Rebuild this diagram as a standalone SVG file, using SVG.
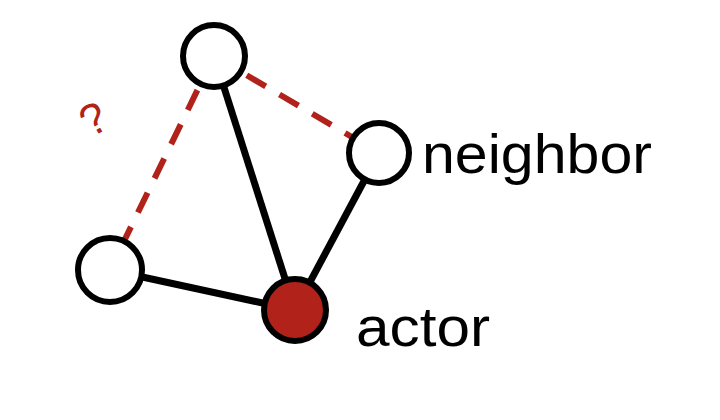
<svg xmlns="http://www.w3.org/2000/svg" width="720" height="420" viewBox="0 0 720 420">
<style>
.n{fill:#fff;stroke:#000;stroke-width:6}
.e{stroke:#000;stroke-width:7}
.d{stroke:#b0221a;stroke-width:6;stroke-dasharray:22,16}
.t{font-family:"Helvetica","Liberation Sans",Arial,sans-serif;font-size:55px;fill:#000}
</style>
<rect width="720" height="420" fill="#fff"/>
<g id="connectors">
<line class="d" x1="214" y1="56" x2="379" y2="153"/>
<line class="d" x1="214" y1="56" x2="110" y2="270"/>
<line class="e" x1="214" y1="56" x2="295" y2="310"/>
<line class="e" x1="379" y1="153" x2="295" y2="310"/>
<line class="e" x1="110" y1="270" x2="295" y2="310"/>
</g>
<g id="top"><circle class="n" cx="214" cy="56" r="31"/></g>
<g id="neighbor"><circle class="n" cx="379" cy="153" r="30"/><text class="t" x="422" y="173" textLength="230" lengthAdjust="spacingAndGlyphs">neighbor</text></g>
<g id="left"><circle class="n" cx="110" cy="270" r="32"/></g>
<g id="actor"><circle cx="295" cy="310" r="31" fill="#b0221a" stroke="#000" stroke-width="6"/><text class="t" x="356" y="346" textLength="134" lengthAdjust="spacingAndGlyphs">actor</text></g>
<text x="94" y="134" font-family="Liberation Sans,Arial,sans-serif" font-size="44" fill="#b0221a" transform="rotate(-30 94 120)" text-anchor="middle">?</text>
</svg>
